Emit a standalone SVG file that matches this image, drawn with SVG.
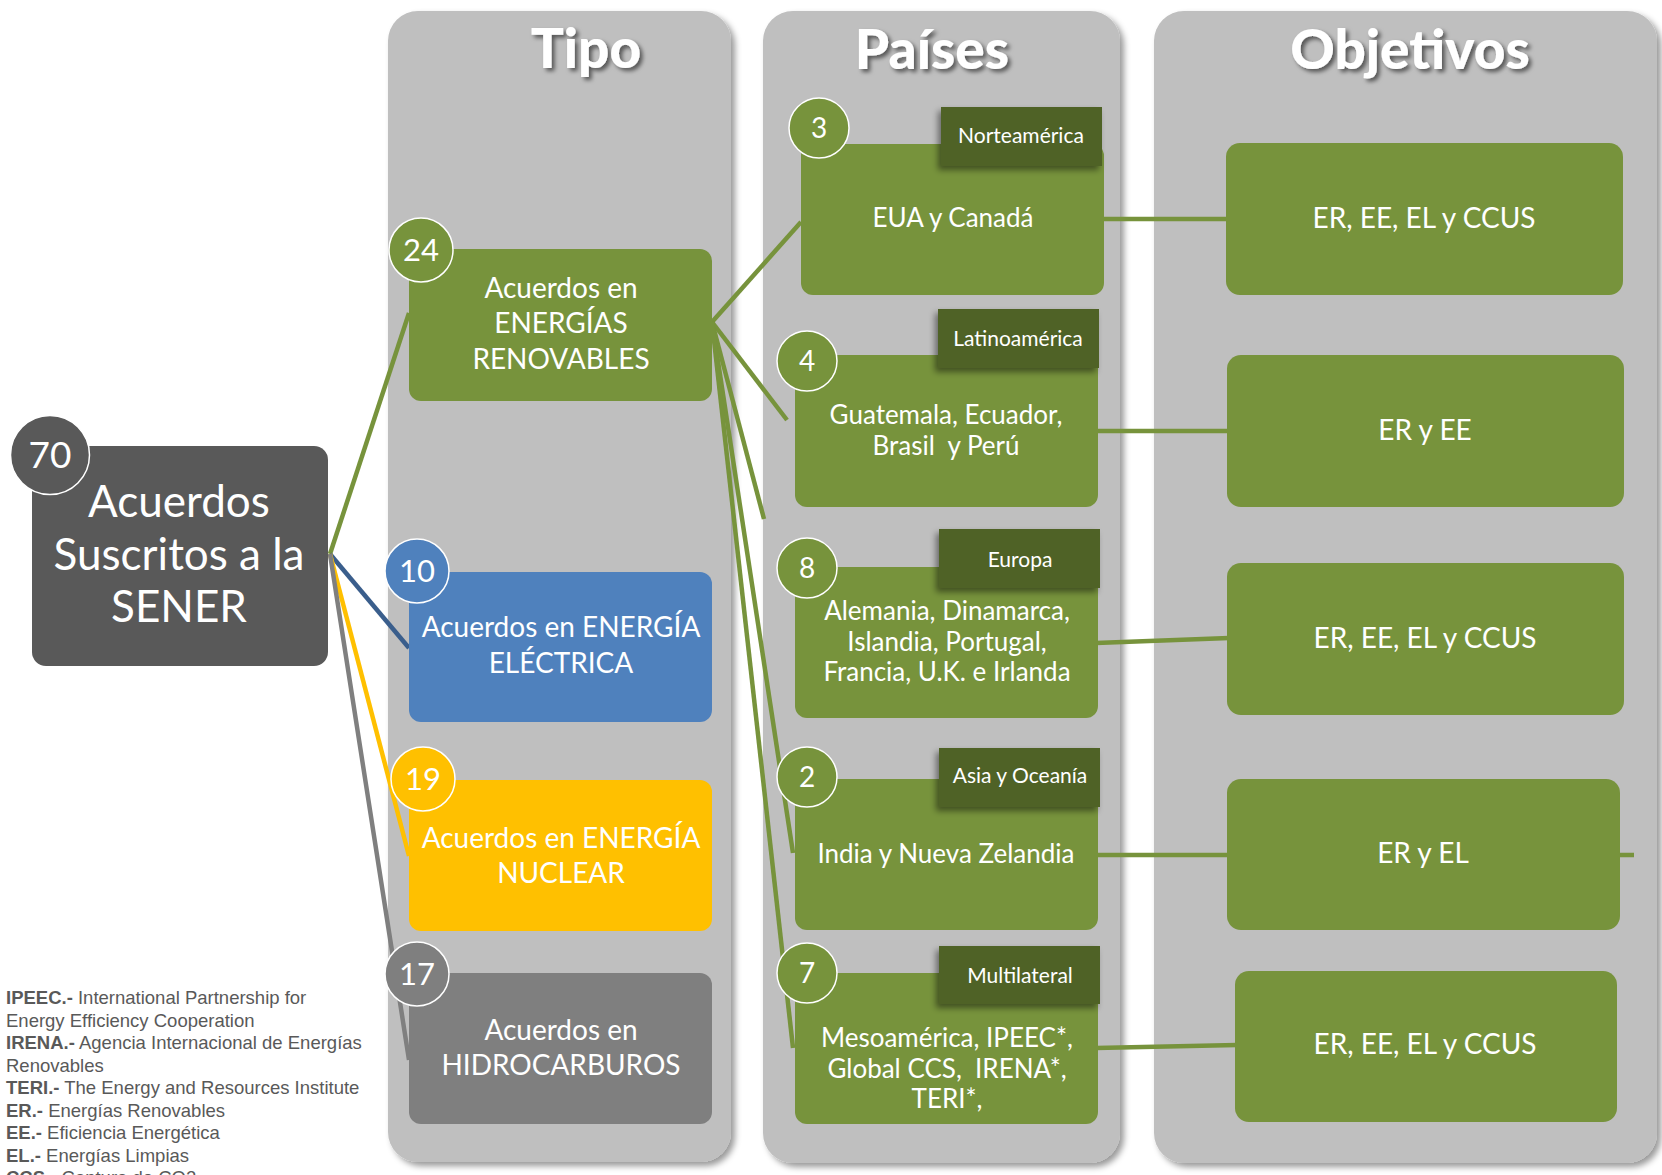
<svg xmlns="http://www.w3.org/2000/svg" width="1662" height="1175" viewBox="0 0 1662 1175">
  <defs>
    <style>
      .panel { fill: #BFBFBF; filter: url(#panelShadow); }
      .title { font-family: Lato, "Open Sans", "DejaVu Sans", sans-serif; font-weight: 900; font-size: 55px; fill: #FFFFFF; text-anchor: middle; filter: url(#titleShadow); }
      .green { fill: #77933C; }
      .blue { fill: #4F81BD; }
      .yellow { fill: #FFC000; }
      .grey { fill: #7F7F7F; }
      .dark { fill: #595959; }
      .tag { fill: #4F6228; filter: url(#tagShadow); }
      .badge { stroke: #FFFFFF; stroke-width: 1.5; }
      .t { font-family: Lato, "Open Sans", "DejaVu Sans", sans-serif; fill: #FFFFFF; text-anchor: middle; }
      .t-main { font-size: 44px; }
      .t-type { font-size: 28px; }
      .t-country { font-size: 26px; }
      .t-goal { font-size: 28px; }
      .t-tag { font-size: 21px; }
      .t-num-l { font-size: 37px; }
      .t-num-m { font-size: 31px; }
      .t-num-s { font-size: 28px; }
      .c { fill: none; stroke-width: 4.5; stroke-linecap: butt; }
      .c-green { stroke: #77933C; }
      .c-blue { stroke: #3A5E8C; }
      .c-yellow { stroke: #FFC000; }
      .c-grey { stroke: #7F7F7F; }
      .legend { font-family: "Liberation Sans", Arial, sans-serif; font-size: 18.5px; fill: #595959; }
      .legend .b { font-weight: 700; }
    </style>
    <filter id="panelShadow" x="-10%" y="-5%" width="125%" height="115%">
      <feDropShadow dx="4" dy="4" stdDeviation="3" flood-color="#000000" flood-opacity="0.4"/>
    </filter>
    <filter id="titleShadow" x="-20%" y="-30%" width="140%" height="170%">
      <feDropShadow dx="3" dy="3" stdDeviation="2" flood-color="#000000" flood-opacity="0.55"/>
    </filter>
    <filter id="tagShadow" x="-20%" y="-30%" width="140%" height="170%">
      <feDropShadow dx="-3" dy="4" stdDeviation="3" flood-color="#000000" flood-opacity="0.45"/>
    </filter>
  </defs>

  <rect width="1662" height="1175" fill="#FFFFFF"/>

  <!-- column panels -->
  <g id="panels">
    <rect class="panel" x="388" y="11" width="343" height="1151" rx="30"/>
    <rect class="panel" x="763" y="11" width="357" height="1152" rx="30"/>
    <rect class="panel" x="1154" y="11" width="503" height="1152" rx="30"/>
    <text class="title" x="586" y="68">Tipo</text>
    <text class="title" x="932" y="69">Países</text>
    <text class="title" x="1410" y="69">Objetivos</text>
  </g>

  <!-- connectors -->
  <g id="connectors">
    <line class="c c-green" x1="330" y1="554" x2="409" y2="313"/>
    <line class="c c-blue" x1="330" y1="554" x2="409" y2="648"/>
    <line class="c c-yellow" x1="330" y1="554" x2="409" y2="856"/>
    <line class="c c-grey" x1="330" y1="554" x2="409" y2="1060"/>

    <line class="c c-green" x1="712" y1="322" x2="801" y2="222"/>
    <line class="c c-green" x1="712" y1="322" x2="787" y2="420"/>
    <line class="c c-green" x1="712" y1="322" x2="764" y2="519"/>
    <line class="c c-green" x1="712" y1="322" x2="793" y2="853"/>
    <line class="c c-green" x1="712" y1="322" x2="793" y2="1048"/>

    <line class="c c-green" x1="1102" y1="219" x2="1228" y2="219"/>
    <line class="c c-green" x1="1096" y1="431" x2="1229" y2="431"/>
    <line class="c c-green" x1="1096" y1="643" x2="1229" y2="638"/>
    <line class="c c-green" x1="1096" y1="855" x2="1229" y2="855"/>
    <line class="c c-green" x1="1096" y1="1048" x2="1237" y2="1045"/>
    <line class="c c-green" x1="1618" y1="855" x2="1634" y2="855"/>
  </g>

  <!-- root node -->
  <g id="node-total">
    <rect class="dark" x="32" y="446" width="296" height="220" rx="14"/>
    <circle class="dark badge" cx="50" cy="455" r="39.5"/>
    <text class="t t-num-l" x="50" y="468">70</text>
    <text class="t t-main" x="179" y="517">Acuerdos</text>
    <text class="t t-main" x="179" y="570">Suscritos a la</text>
    <text class="t t-main" x="179" y="622">SENER</text>
  </g>

  <!-- type nodes -->
  <g id="node-renovables">
    <rect class="green" x="409" y="249" width="303" height="152" rx="12"/>
    <circle class="green badge" cx="421" cy="250" r="32"/>
    <text class="t t-num-m" x="421" y="261">24</text>
    <text class="t t-type" x="561" y="298">Acuerdos en</text>
    <text class="t t-type" x="561" y="333">ENERGÍAS</text>
    <text class="t t-type" x="561" y="369">RENOVABLES</text>
  </g>
  <g id="node-electrica">
    <rect class="blue" x="409" y="572" width="303" height="150" rx="12"/>
    <circle class="blue badge" cx="417" cy="571" r="32"/>
    <text class="t t-num-m" x="417" y="582">10</text>
    <text class="t t-type" x="561" y="637">Acuerdos en ENERGÍA</text>
    <text class="t t-type" x="561" y="673">ELÉCTRICA</text>
  </g>
  <g id="node-nuclear">
    <rect class="yellow" x="409" y="780" width="303" height="151" rx="12"/>
    <circle class="yellow badge" cx="423" cy="779" r="32"/>
    <text class="t t-num-m" x="423" y="790">19</text>
    <text class="t t-type" x="561" y="848">Acuerdos en ENERGÍA</text>
    <text class="t t-type" x="561" y="883">NUCLEAR</text>
  </g>
  <g id="node-hidrocarburos">
    <rect class="grey" x="409" y="973" width="303" height="151" rx="12"/>
    <circle class="grey badge" cx="417" cy="974" r="32"/>
    <text class="t t-num-m" x="417" y="985">17</text>
    <text class="t t-type" x="561" y="1040">Acuerdos en</text>
    <text class="t t-type" x="561" y="1075">HIDROCARBUROS</text>
  </g>

  <!-- country nodes -->
  <g id="node-norteamerica">
    <rect class="green" x="801" y="144" width="303" height="151" rx="12"/>
    <rect class="tag" x="941" y="107" width="161" height="59"/>
    <text class="t t-tag" x="1021" y="143">Norteamérica</text>
    <circle class="green badge" cx="819" cy="128" r="30"/>
    <text class="t t-num-s" x="819" y="138">3</text>
    <text class="t t-country" x="953" y="227">EUA y Canadá</text>
  </g>
  <g id="node-latinoamerica">
    <rect class="green" x="795" y="355" width="303" height="152" rx="12"/>
    <rect class="tag" x="938" y="309" width="161" height="59"/>
    <text class="t t-tag" x="1018" y="346">Latinoamérica</text>
    <circle class="green badge" cx="807" cy="361" r="30"/>
    <text class="t t-num-s" x="807" y="371">4</text>
    <text class="t t-country" x="946" y="424">Guatemala, Ecuador,</text>
    <text class="t t-country" x="946" y="455" xml:space="preserve">Brasil  y Perú</text>
  </g>
  <g id="node-europa">
    <rect class="green" x="795" y="567" width="303" height="151" rx="12"/>
    <rect class="tag" x="939" y="529" width="161" height="59"/>
    <text class="t t-tag" x="1020" y="567">Europa</text>
    <circle class="green badge" cx="807" cy="568" r="30"/>
    <text class="t t-num-s" x="807" y="578">8</text>
    <text class="t t-country" x="947" y="620">Alemania, Dinamarca,</text>
    <text class="t t-country" x="947" y="651">Islandia, Portugal,</text>
    <text class="t t-country" x="947" y="681">Francia, U.K. e Irlanda</text>
  </g>
  <g id="node-asia">
    <rect class="green" x="795" y="779" width="303" height="151" rx="12"/>
    <rect class="tag" x="939" y="748" width="161" height="59"/>
    <text class="t t-tag" x="1020" y="783">Asia y Oceanía</text>
    <circle class="green badge" cx="807" cy="777" r="30"/>
    <text class="t t-num-s" x="807" y="787">2</text>
    <text class="t t-country" x="946" y="863">India y Nueva Zelandia</text>
  </g>
  <g id="node-multilateral">
    <rect class="green" x="795" y="973" width="303" height="151" rx="12"/>
    <rect class="tag" x="939" y="946" width="161" height="58"/>
    <text class="t t-tag" x="1020" y="983">Multilateral</text>
    <circle class="green badge" cx="807" cy="973" r="30"/>
    <text class="t t-num-s" x="807" y="983">7</text>
    <text class="t t-country" x="947" y="1047">Mesoamérica, IPEEC*,</text>
    <text class="t t-country" x="947" y="1078" xml:space="preserve">Global CCS,  IRENA*,</text>
    <text class="t t-country" x="947" y="1108">TERI*,</text>
  </g>

  <!-- goal nodes -->
  <g id="goal-norteamerica">
    <rect class="green" x="1226" y="143" width="397" height="152" rx="14"/>
    <text class="t t-goal" x="1424" y="228">ER, EE, EL y CCUS</text>
  </g>
  <g id="goal-latinoamerica">
    <rect class="green" x="1227" y="355" width="397" height="152" rx="14"/>
    <text class="t t-goal" x="1425" y="440">ER y EE</text>
  </g>
  <g id="goal-europa">
    <rect class="green" x="1227" y="563" width="397" height="152" rx="14"/>
    <text class="t t-goal" x="1425" y="648">ER, EE, EL y CCUS</text>
  </g>
  <g id="goal-asia">
    <rect class="green" x="1227" y="779" width="393" height="151" rx="14"/>
    <text class="t t-goal" x="1423" y="863">ER y EL</text>
  </g>
  <g id="goal-multilateral">
    <rect class="green" x="1235" y="971" width="382" height="151" rx="14"/>
    <text class="t t-goal" x="1425" y="1054">ER, EE, EL y CCUS</text>
  </g>

  <!-- abbreviations; the last line runs past the bottom edge -->
  <g id="legend" class="legend">
    <text x="6" y="1004"><tspan class="b">IPEEC.-</tspan> International Partnership for</text>
    <text x="6" y="1026.5">Energy Efficiency Cooperation</text>
    <text x="6" y="1049"><tspan class="b">IRENA.-</tspan> Agencia Internacional de Energías</text>
    <text x="6" y="1071.5">Renovables</text>
    <text x="6" y="1094"><tspan class="b">TERI.-</tspan> The Energy and Resources Institute</text>
    <text x="6" y="1116.5"><tspan class="b">ER.-</tspan> Energías Renovables</text>
    <text x="6" y="1139"><tspan class="b">EE.-</tspan> Eficiencia Energética</text>
    <text x="6" y="1161.5"><tspan class="b">EL.-</tspan> Energías Limpias</text>
    <text x="6" y="1184"><tspan class="b">CCS.-</tspan> Captura de CO2</text>
  </g>
</svg>
